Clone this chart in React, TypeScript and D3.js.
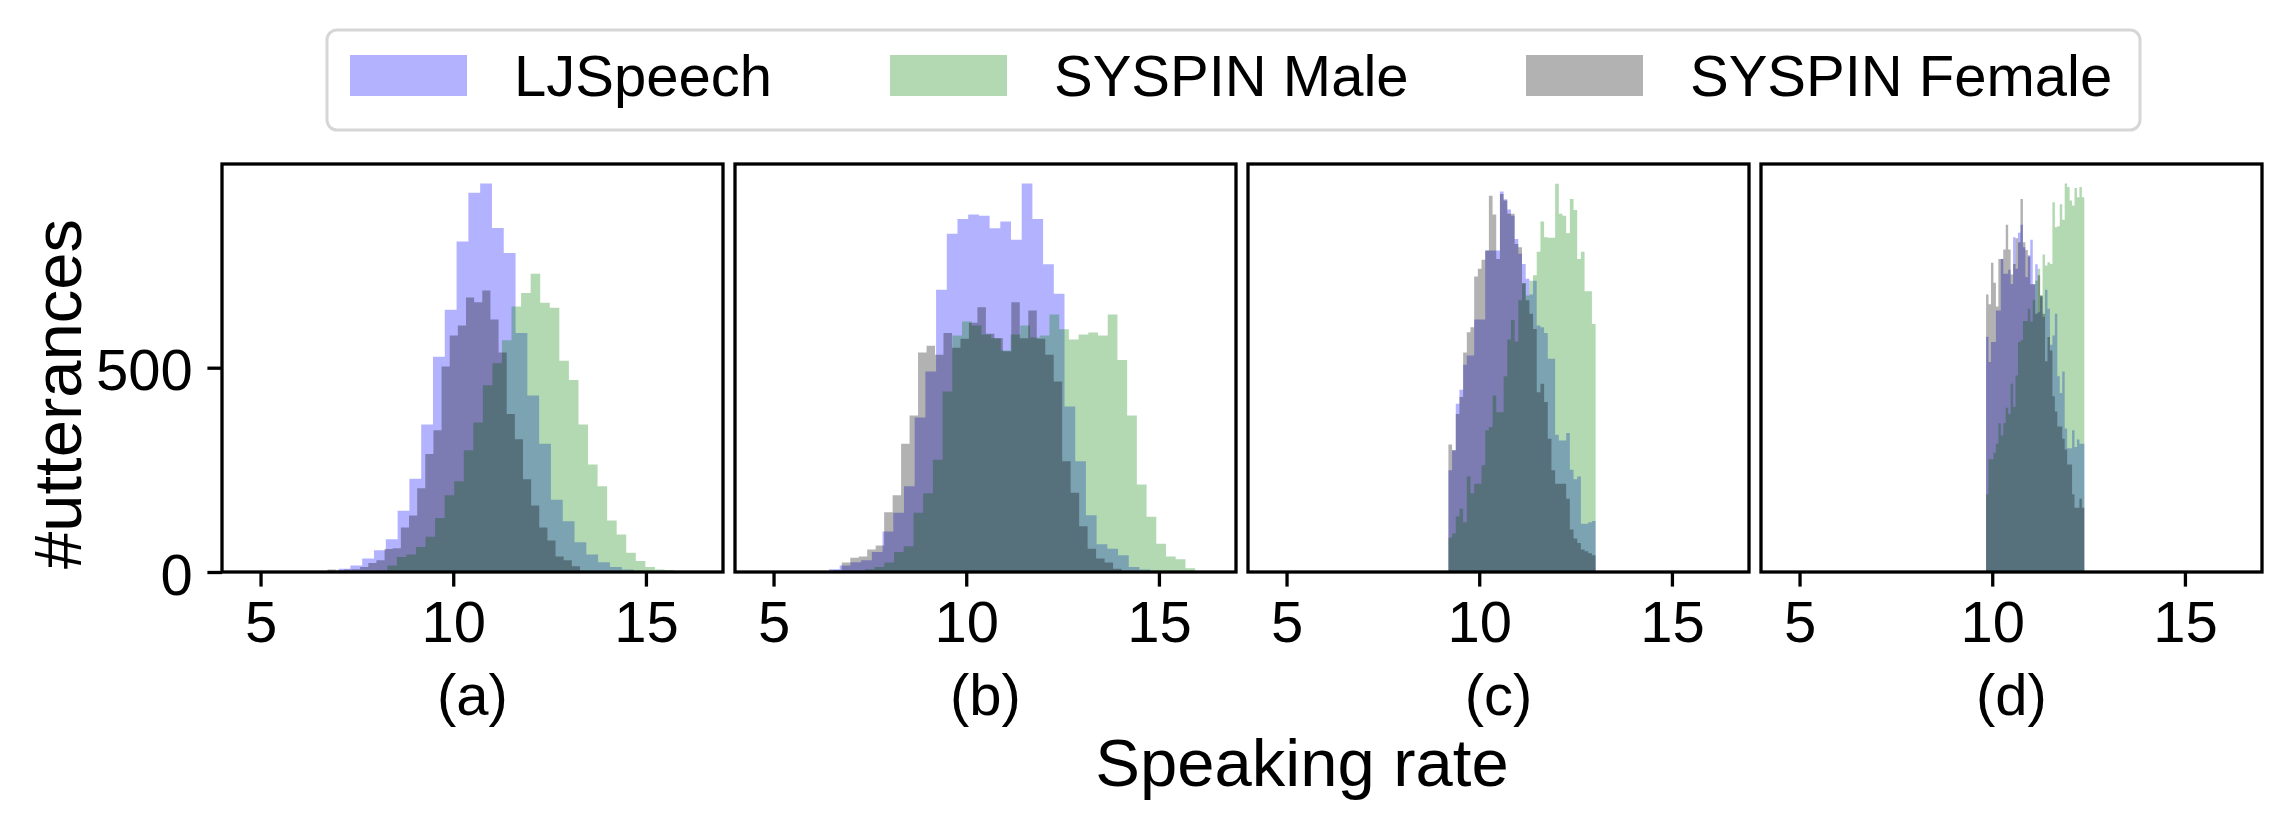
import React, { useEffect, useRef } from 'react';
import * as d3 from 'd3';

const FONT = '"Liberation Sans", Arial, Helvetica, sans-serif';

const seriesNames = ['LJSpeech', 'SYSPIN Male', 'SYSPIN Female'];
const seriesColors = ['#0000ff', '#008000', '#000000'];
const panelLabels = ['(a)', '(b)', '(c)', '(d)'];
const xTicks = [5, 10, 15];
const yTicks = [0, 500];
const xDomain = [4, 17];

// histogram counts, bins evenly spread over [first edge, last edge]
// (a)
const ljA = [3, 8, 16, 33, 53, 80, 150, 228, 361, 527, 642, 809, 928, 951, 842, 781, 585, 432, 314, 177, 124, 73, 43, 24, 12, 6, 3, 1];
const ljARange = [6.72, 15.29];
const maleA = [4, 16, 37, 43, 61, 86, 132, 188, 222, 298, 366, 457, 511, 567, 650, 683, 730, 659, 647, 517, 470, 361, 263, 210, 126, 92, 47, 27, 12, 6, 5];
const maleARange = [8.04, 15.73];
const femaleA = [6, 4, 6, 7, 12, 22, 29, 56, 58, 109, 138, 205, 289, 347, 503, 579, 603, 672, 660, 689, 618, 537, 387, 325, 227, 163, 109, 77, 38, 29, 14, 2];
const femaleARange = [6.74, 13.5];

// (b)
const ljB = [7, 16, 24, 29, 49, 99, 145, 210, 378, 491, 691, 828, 864, 875, 872, 841, 858, 813, 951, 864, 753, 681, 405, 271, 139, 68, 57, 41, 12, 6, 3];
const ljBRange = [6.44, 15.05];
const maleB = [7, 12, 23, 49, 63, 145, 193, 275, 442, 579, 613, 603, 581, 572, 542, 581, 603, 574, 579, 630, 594, 569, 581, 586, 579, 630, 519, 383, 214, 135, 69, 38, 31, 9];
const maleBRange = [7.37, 15.94];
const femaleB = [4, 23, 35, 38, 55, 65, 146, 188, 314, 383, 537, 554, 532, 585, 549, 571, 610, 648, 583, 572, 540, 660, 572, 640, 571, 532, 466, 271, 194, 112, 57, 33, 23, 8];
const femaleBRange = [6.55, 14.03];

// (c)
const ljC = [249, 298, 412, 446, 507, 530, 530, 618, 618, 618, 787, 787, 787, 787, 931, 912, 887, 872, 815, 779, 754, 718, 679, 713, 603, 599, 585, 522, 522, 336, 322, 322, 340, 250, 227, 234, 118, 118, 122, 125];
const maleC = [84, 94, 136, 155, 122, 234, 193, 216, 216, 261, 347, 355, 432, 391, 391, 479, 569, 617, 564, 665, 707, 677, 713, 726, 784, 858, 819, 818, 818, 950, 877, 872, 829, 913, 886, 766, 784, 687, 687, 607];
const femaleC = [312, 298, 387, 428, 537, 587, 599, 723, 742, 764, 787, 921, 875, 766, 925, 909, 877, 877, 803, 795, 707, 665, 632, 595, 440, 461, 416, 326, 249, 216, 216, 216, 179, 104, 82, 71, 55, 51, 46, 41];
const rangeC = [9.2, 13.02];

// (d)
const ljD = [576, 514, 563, 563, 640, 640, 766, 730, 730, 740, 705, 819, 742, 830, 850, 795, 722, 775, 813, 704, 753, 636, 674, 625, 691, 644, 556, 579, 632, 479, 438, 491, 351, 303, 303, 347, 306, 324, 314, 314];
const maleD = [190, 276, 276, 292, 314, 364, 334, 364, 402, 387, 461, 404, 481, 563, 567, 614, 614, 644, 613, 665, 713, 742, 677, 777, 750, 758, 754, 905, 844, 846, 900, 862, 951, 942, 909, 897, 940, 917, 942, 917];
const femaleD = [679, 655, 757, 708, 650, 766, 766, 789, 850, 789, 728, 754, 817, 807, 913, 807, 788, 772, 704, 704, 632, 726, 677, 632, 516, 575, 542, 430, 393, 356, 356, 326, 300, 263, 263, 190, 157, 157, 179, 157];
const rangeD = [9.84, 12.39];

const panels = [
    [[ljA, ljARange], [maleA, maleARange], [femaleA, femaleARange]],
    [[ljB, ljBRange], [maleB, maleBRange], [femaleB, femaleBRange]],
    [[ljC, rangeC], [maleC, rangeC], [femaleC, rangeC]],
    [[ljD, rangeD], [maleD, rangeD], [femaleD, rangeD]],
];

export default function App() {
    const chartRef = useRef(null);

    const width = 2292;
    const height = 830;
    const panelW = 501;
    const panelH = 408;
    const top = 164;
    const firstLeft = 222;
    const step = 513;
    const lw = 3.3;
    const tickLen = 14.6;

    useEffect(() => {
        const svg = d3.select(chartRef.current);
        svg.selectAll('*').remove();

        const allCounts = panels.flatMap(p => p.flatMap(s => s[0]));
        const yMax = d3.max(allCounts) * 1.05;

        const xScale = d3.scaleLinear().domain(xDomain).range([0, panelW]);
        const yScale = d3.scaleLinear().domain([0, yMax]).range([panelH, 0]);

        const area = d3.area()
            .x(d => xScale(d[0]))
            .y0(yScale(0))
            .y1(d => yScale(d[1]))
            .curve(d3.curveStepAfter);

        panels.forEach((series, i) => {
            const chart = svg.append('g')
                .attr('transform', `translate(${firstLeft + i * step},${top})`);

            series.forEach(([counts, range], k) => {
                const n = counts.length;
                const w = (range[1] - range[0]) / n;
                const pts = counts.map((c, j) => [range[0] + j * w, c]);
                pts.push([range[1], counts[n - 1]]);
                chart.append('path')
                    .attr('d', area(pts))
                    .attr('fill', seriesColors[k])
                    .attr('fill-opacity', 0.3);
            });

            // x axis
            const xa = chart.append('g')
                .attr('transform', `translate(0,${panelH})`)
                .call(d3.axisBottom(xScale).tickValues(xTicks).tickSize(tickLen).tickPadding(tickLen).tickFormat(d3.format('d')));
            xa.select('.domain').remove();
            xa.attr('font-family', FONT).attr('font-size', 58);
            xa.selectAll('line').attr('stroke', '#000').attr('stroke-width', lw);
            xa.selectAll('text').attr('fill', '#000');

            // y axis only on the first panel
            if (i === 0) {
                const ya = chart.append('g')
                    .call(d3.axisLeft(yScale).tickValues(yTicks).tickSize(tickLen).tickPadding(tickLen));
                ya.select('.domain').remove();
                ya.attr('font-family', FONT).attr('font-size', 58);
                ya.selectAll('line').attr('stroke', '#000').attr('stroke-width', lw);
                ya.selectAll('text').attr('fill', '#000').attr('dy', '0.38em');
            }

            // frame
            chart.append('rect')
                .attr('x', 0)
                .attr('y', 0)
                .attr('width', panelW)
                .attr('height', panelH)
                .attr('fill', 'none')
                .attr('stroke', '#000')
                .attr('stroke-width', lw);

            chart.append('text')
                .attr('x', panelW / 2)
                .attr('y', 715 - top)
                .attr('text-anchor', 'middle')
                .attr('font-family', FONT)
                .attr('font-size', 58)
                .text(panelLabels[i]);
        });

        // axis titles
        svg.append('text')
            .attr('x', 1302)
            .attr('y', 786)
            .attr('text-anchor', 'middle')
            .attr('font-family', FONT)
            .attr('font-size', 67)
            .text('Speaking rate');

        svg.append('text')
            .attr('transform', 'translate(81,394) rotate(-90)')
            .attr('text-anchor', 'middle')
            .attr('font-family', FONT)
            .attr('font-size', 67)
            .text('#utterances');

        // legend
        const legend = svg.append('g');
        legend.append('rect')
            .attr('x', 327)
            .attr('y', 30)
            .attr('width', 1813)
            .attr('height', 100)
            .attr('rx', 10)
            .attr('fill', '#fff')
            .attr('stroke', '#d6d6d6')
            .attr('stroke-width', 3);

        const patchX = [350, 890, 1526];
        seriesNames.forEach((name, k) => {
            legend.append('rect')
                .attr('x', patchX[k])
                .attr('y', 55)
                .attr('width', 117)
                .attr('height', 41)
                .attr('fill', seriesColors[k])
                .attr('fill-opacity', 0.3);
            legend.append('text')
                .attr('x', patchX[k] + 164)
                .attr('y', 96)
                .attr('font-family', FONT)
                .attr('font-size', 58)
                .text(name);
        });
    });

    return (
        <svg ref={chartRef}
            width={width}
            height={height}
            viewBox={`0 0 ${width} ${height}`}
            style={{ position: 'absolute', left: 0, top: 0, background: '#fff', display: 'block' }}>
        </svg>
    );
}
